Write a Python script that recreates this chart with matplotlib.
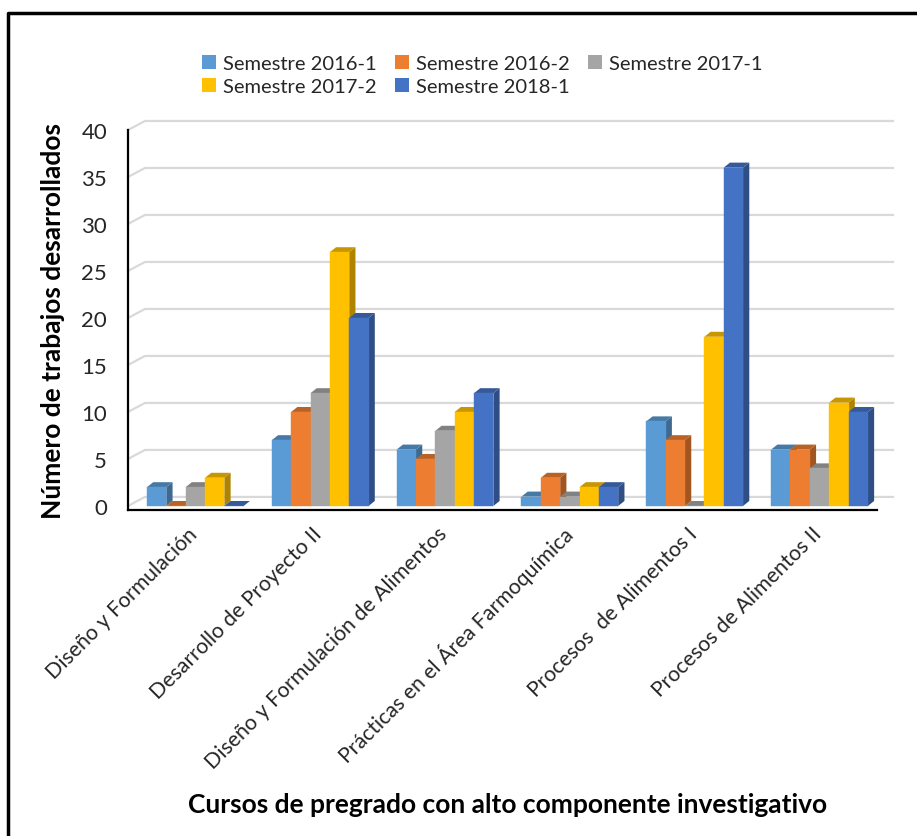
import matplotlib
matplotlib.use("Agg")
import matplotlib.pyplot as plt
from matplotlib.patches import Polygon, Patch
from matplotlib.lines import Line2D
from matplotlib.transforms import ScaledTranslation
import matplotlib.colors as mcolors
import numpy as np

plt.rcParams['font.family'] = ['Lato', 'DejaVu Sans']

categories = ["Diseño y Formulación", "Desarrollo de Proyecto II",
              "Diseño y Formulación de Alimentos", "Prácticas en el Área Farmoquímica",
              "Procesos  de Alimentos I", "Procesos de Alimentos II"]
series_names = ["Semestre 2016-1", "Semestre 2016-2", "Semestre 2017-1",
                "Semestre 2017-2", "Semestre 2018-1"]
s2016_1 = [2, 7, 6, 1, 9, 6]
s2016_2 = [0, 10, 5, 3, 7, 6]
s2017_1 = [2, 12, 8, 1, 0, 4]
s2017_2 = [3, 27, 10, 2, 18, 11]
s2018_1 = [0, 20, 12, 2, 36, 10]
series = [s2016_1, s2016_2, s2017_1, s2017_2, s2018_1]
colors = ['#5B9BD5', '#ED7D31', '#A5A5A5', '#FFC000', '#4472C4']
yticks = [0, 5, 10, 15, 20, 25, 30, 35, 40]


def shade(c, f):
    r, g, b = mcolors.to_rgb(c)
    return (r * f, g * f, b * f)


W, H = 917, 837
fig = plt.figure(figsize=(W / 100, H / 100), dpi=100)
ax = fig.add_axes([128 / W, (H - 511) / H, 749 / W, 380 / H])
ax.set_xlim(-0.5, 5.5)
ax.set_ylim(-0.43, 40)

# back-wall gridlines (3D look)
gdx, gdy = 0.136, 0.96
for v in yticks:
    ax.plot([-0.5, -0.5 + gdx, 5.5 + 0.128], [v, v + gdy, v + gdy],
            color='#D9D9D9', lw=1.6, clip_on=False, zorder=0.5)

bw = 0.155
bdx, bdy = 0.05, 0.53
x = np.arange(len(categories))
for j, (vals, c) in enumerate(zip(series, colors)):
    lefts = x - 0.348 + j * bw
    for l, h in zip(lefts, vals):
        r = l + bw
        side = Polygon([(r, 0), (r + bdx, bdy), (r + bdx, h + bdy), (r, h)],
                       closed=True, facecolor=shade(c, 0.68), edgecolor='none', zorder=2)
        top = Polygon([(l, h), (r, h), (r + bdx, h + bdy), (l + bdx, h + bdy)],
                      closed=True, facecolor=shade(c, 0.78), edgecolor='none', zorder=2)
        ax.add_patch(side)
        ax.add_patch(top)
    ax.bar(lefts, vals, width=bw, align='edge', color=c, edgecolor=c,
           linewidth=0.3, zorder=3, label=series_names[j])

for s in ['top', 'right']:
    ax.spines[s].set_visible(False)
ax.spines['left'].set_linewidth(1.6)
ax.spines['bottom'].set_linewidth(1.6)
ax.spines['left'].set_bounds(-0.43, 40)

ax.set_yticks(yticks)
ax.tick_params(axis='y', length=0, pad=15, labelsize=16, labelcolor='#262626')
ax.set_xticks(x)
ax.set_xticklabels(categories, rotation=45, ha='right', va='center',
                   rotation_mode='anchor', fontsize=15.3, color='#262626')
ax.tick_params(axis='x', length=0, pad=16)
for lab in ax.get_xticklabels():
    lab.set_transform(lab.get_transform() + ScaledTranslation(0.04, 0.02, fig.dpi_scale_trans))

ax.set_ylabel("Número de trabajos desarrollados", fontsize=19, fontweight='bold',
              labelpad=12)
fig.text(508 / W, 1 - 805 / H, "Cursos de pregrado con alto componente investigativo",
         fontsize=19, fontweight='bold', ha='center', va='center')

handles = [Patch(facecolor=c, edgecolor='none') for c in colors]
order = [0, 3, 1, 4, 2]
leg = fig.legend([handles[i] for i in order], [series_names[i] for i in order],
                 ncol=3, loc='center', bbox_to_anchor=(482 / W, 1 - 76 / H),
                 frameon=False, fontsize=14.5, handlelength=0.7, handleheight=0.7,
                 handletextpad=0.35, columnspacing=0.9, labelspacing=0.25,
                 labelcolor='#262626')

# outer border of chart area
fig.add_artist(Line2D([8 / W, 8 / W, 1.01], [-0.01, 1 - 14 / H, 1 - 14 / H],
                      transform=fig.transFigure, color='black', lw=2.5))

fig.savefig("out.png", dpi=100)
